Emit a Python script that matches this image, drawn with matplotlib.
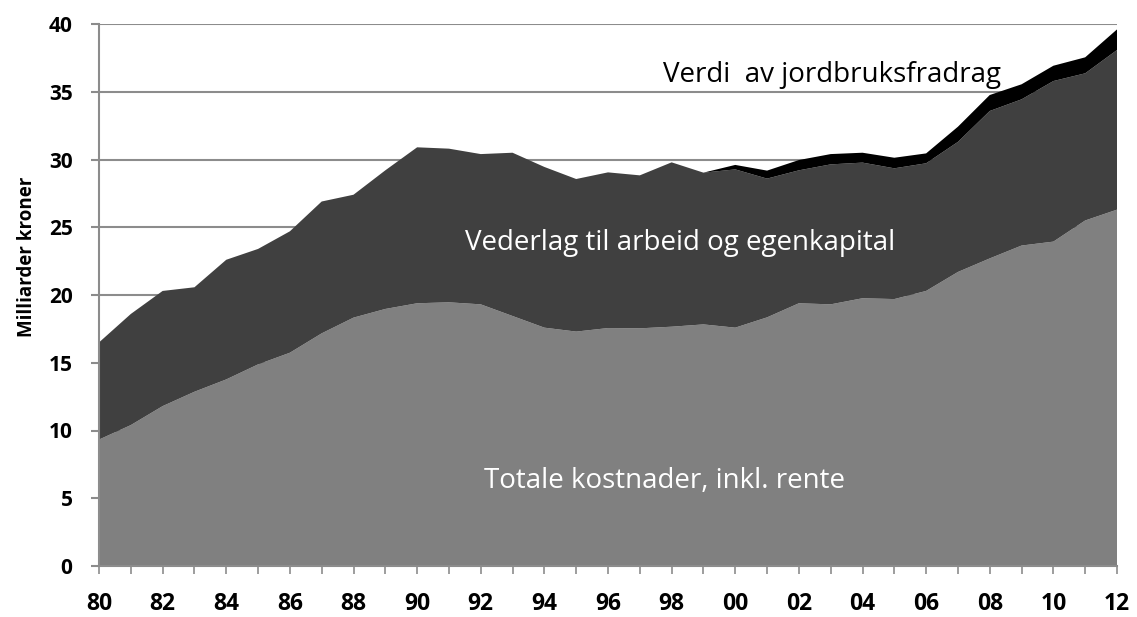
import matplotlib
matplotlib.use("Agg")
import matplotlib.pyplot as plt
import numpy as np

years = list(range(1980, 2013))
kostnader = [9.33, 10.4, 11.8, 12.86, 13.77, 14.88, 15.74, 17.17, 18.33, 18.97,
             19.39, 19.46, 19.31, 18.45, 17.59, 17.3, 17.56, 17.54, 17.66, 17.83,
             17.59, 18.35, 19.39, 19.31, 19.76, 19.7, 20.3, 21.7, 22.7, 23.65,
             23.94, 25.5, 26.3]
vederlag = [7.17, 8.2, 8.5, 7.71, 8.83, 8.52, 8.96, 9.73, 9.07, 10.23,
            11.51, 11.34, 11.09, 12.05, 11.86, 11.26, 11.49, 11.29, 12.13, 11.2,
            11.68, 10.24, 9.81, 10.33, 10.01, 9.65, 9.42, 9.6, 10.88, 10.79,
            11.85, 10.86, 11.78]
fradrag = [0]*19 + [0.0, 0.33, 0.59, 0.76, 0.76, 0.73, 0.78, 0.73, 1.12, 1.18,
                    1.11, 1.13, 1.18, 1.52]
tick_years = list(range(1980, 2013, 2))
tick_labels = [f"{y % 100:02d}" for y in tick_years]
y_ticks = list(range(0, 41, 5))

fig = plt.figure(figsize=(11.37, 6.17), dpi=100)
ax = fig.add_axes([99/1137, 51/617, 1018/1137, 542/617])

ax.set_axisbelow(True)
ax.yaxis.grid(True, color="#8c8c8c", linewidth=1.5)
ax.stackplot(years, kostnader, vederlag, fradrag,
             colors=["#808080", "#404040", "#000000"], linewidth=0, zorder=2)

ax.set_xlim(1980, 2012)
ax.set_ylim(0, 40)
ax.set_yticks(y_ticks)
ax.set_xticks(tick_years)
ax.set_xticks(years, minor=True)
ax.set_xticklabels(tick_labels)

for s in ["top", "right"]:
    ax.spines[s].set_visible(False)
ax.spines["left"].set_color("#8c8c8c")
ax.spines["left"].set_linewidth(1.5)
ax.spines["bottom"].set_color("#8c8c8c")
ax.spines["bottom"].set_linewidth(1.5)
ax.spines["bottom"].set_zorder(3)

ax.tick_params(axis="y", length=6, width=1.5, color="#8c8c8c", pad=13)
ax.tick_params(axis="x", which="both", length=5.5, width=1.2, color="#8c8c8c", pad=13)
ax.tick_params(axis="x", which="minor", labelbottom=False)

for lab in ax.get_yticklabels():
    lab.set_fontweight("bold")
    lab.set_fontsize(15)
    lab.set_family("Open Sans")
for lab in ax.get_xticklabels():
    lab.set_fontweight("bold")
    lab.set_fontsize(16.5)
    lab.set_family("Open Sans")

ax.set_ylabel("Milliarder kroner", fontsize=13.5, fontweight="bold",
              family="Open Sans")
ax.yaxis.set_label_coords(-0.061, 0.57)

ax.text(2003.05, 35.75, "Verdi  av jordbruksfradrag", fontsize=20, color="black",
        ha="center", va="baseline", family="Open Sans")
ax.text(1998.27, 23.3, "Vederlag til arbeid og egenkapital", fontsize=20,
        color="white", ha="center", va="baseline", family="Open Sans")
ax.text(1997.77, 5.76, "Totale kostnader, inkl. rente", fontsize=20,
        color="white", ha="center", va="baseline", family="Open Sans")

fig.savefig("out.png", dpi=100)
